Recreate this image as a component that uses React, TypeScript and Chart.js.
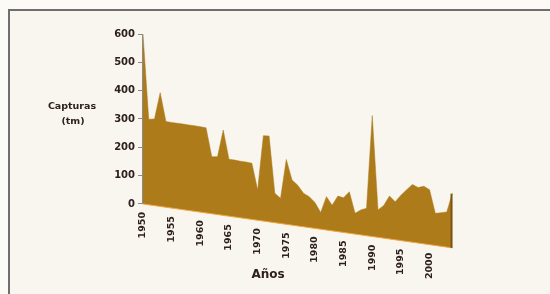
import React, { useEffect, useRef } from "react";
import { Chart, registerables } from "chart.js";

Chart.register(...registerables);

const years: number[] = [
  1950, 1951, 1952, 1953, 1954, 1955, 1956, 1957, 1958, 1959,
  1960, 1961, 1962, 1963, 1964, 1965, 1966, 1967, 1968, 1969,
  1970, 1971, 1972, 1973, 1974, 1975, 1976, 1977, 1978, 1979,
  1980, 1981, 1982, 1983, 1984, 1985, 1986, 1987, 1988, 1989,
  1990, 1991, 1992, 1993, 1994, 1995, 1996, 1997, 1998, 1999,
  2000, 2001, 2002, 2003, 2004,
];

// Capturas (tm) as read against the left value axis
const capturas: number[] = [
  600, 299, 300, 393, 291, 288, 285, 282, 279, 276,
  273, 269, 167, 167, 261, 158, 155, 151, 148, 144,
  49, 241, 240, 38, 20, 157, 85, 66, 38, 26,
  5, -30, 26, -4, 28, 22, 43, -33, -21, -15,
  312, -21, -5, 28, 8, 31, 50, 69, 58, 63,
  50, -33, -31, -28, 40,
];

// perspective floor of the 3D area, start and end (value-axis units)
const floorYears: number[] = [1950, 2004];
const floorDrop: number[] = [0, -155];

const yTickValues: number[] = [0, 100, 200, 300, 400, 500, 600];
const xLabelYears: number[] = [1950, 1955, 1960, 1965, 1970, 1975, 1980, 1985, 1990, 1995, 2000];

const yTitle: string[] = ["Capturas", "(tm)"];
const xTitle = "Años";

const AREA = "#ad7b1a";
const SIDE = "#7a5412";
const FLOOR_EDGE = "#f0a540";
const TEXT = "#2f2020";
const AXIS = "#8a8a8a";
const FONT = '"DejaVu Sans"';

export default function App() {
  const ref = useRef<HTMLCanvasElement | null>(null);

  useEffect(() => {
    if (!ref.current) return;

    const overlay = {
      id: "overlay",
      beforeDatasetsDraw(chart: any) {
        const { ctx, scales } = chart;
        const x = scales.x, y = scales.y;
        const x0 = x.getPixelForValue(years[0]);
        ctx.save();
        ctx.strokeStyle = AXIS;
        ctx.lineWidth = 1;
        ctx.beginPath();
        ctx.moveTo(Math.round(x0) - 0.5, y.getPixelForValue(yTickValues[yTickValues.length - 1]));
        ctx.lineTo(Math.round(x0) - 0.5, y.getPixelForValue(0));
        ctx.stroke();
        ctx.restore();
      },
      afterDatasetsDraw(chart: any) {
        const { ctx, scales } = chart;
        const x = scales.x, y = scales.y;
        const fx0 = x.getPixelForValue(floorYears[0]);
        const fx1 = x.getPixelForValue(floorYears[1]);
        const fy0 = y.getPixelForValue(floorDrop[0]);
        const fy1 = y.getPixelForValue(floorDrop[1]);

        // side face at the last year
        const lastX = x.getPixelForValue(years[years.length - 1]);
        ctx.save();
        ctx.strokeStyle = SIDE;
        ctx.lineWidth = 2;
        ctx.beginPath();
        ctx.moveTo(lastX - 1, y.getPixelForValue(capturas[capturas.length - 1]) + 1);
        ctx.lineTo(lastX - 1, fy1);
        ctx.stroke();
        ctx.restore();

        ctx.save();
        ctx.fillStyle = TEXT;
        ctx.font = `bold 9.5px ${FONT}`;
        xLabelYears.forEach((yr) => {
          const px = x.getPixelForValue(yr);
          const fy = fy0 + ((fy1 - fy0) * (px - fx0)) / (fx1 - fx0);
          ctx.save();
          ctx.translate(px, fy + 8);
          ctx.rotate(-Math.PI / 2);
          ctx.textAlign = "right";
          ctx.textBaseline = "middle";
          ctx.fillText(String(yr), 0, 0);
          ctx.restore();
        });

        ctx.textAlign = "center";
        ctx.textBaseline = "middle";
        ctx.font = `bold 9.5px ${FONT}`;
        ctx.fillText(yTitle[0], 72, 107);
        ctx.fillText(yTitle[1], 73, 122);

        ctx.font = `bold 12px ${FONT}`;
        ctx.fillText(xTitle, 268, 275);
        ctx.restore();
      },
    };

    const chart = new Chart(ref.current, {
      type: "line",
      data: {
        datasets: [
          {
            label: "suelo",
            data: floorYears.map((yr, i) => ({ x: yr, y: floorDrop[i] })),
            borderColor: FLOOR_EDGE,
            borderWidth: 1,
            pointRadius: 0,
            fill: false,
            order: 0,
          } as any,
          {
            label: "Capturas",
            data: years.map((yr, i) => ({ x: yr, y: capturas[i] })),
            borderColor: AREA,
            backgroundColor: AREA,
            borderWidth: 0.5,
            pointRadius: 0,
            tension: 0,
            fill: { target: 0 },
            order: 1,
          } as any,
        ],
      },
      options: {
        animation: false,
        responsive: false,
        maintainAspectRatio: false,
        devicePixelRatio: 1,
        layout: { padding: { left: 0, top: 34, right: 97.5, bottom: 44.67 } },
        plugins: {
          legend: { display: false },
          tooltip: { enabled: false },
        },
        scales: {
          x: {
            type: "linear",
            min: years[0],
            max: years[years.length - 1],
            display: false,
          },
          y: {
            type: "linear",
            min: -160,
            max: 600,
            afterBuildTicks: (s: any) => {
              s.ticks = yTickValues.map((v) => ({ value: v }));
            },
            afterFit: (s: any) => {
              s.width = 143;
            },
            border: { display: false },
            grid: {
              display: true,
              drawOnChartArea: false,
              drawTicks: true,
              tickLength: 5,
              color: AXIS,
            },
            ticks: {
              color: TEXT,
              padding: 3,
              font: { family: "DejaVu Sans", size: 10, weight: "bold" },
            },
          },
        },
      },
      plugins: [overlay],
    });

    return () => chart.destroy();
  }, []);

  return (
    <div style={{ position: "fixed", left: 0, top: 0, width: 550, height: 294, background: "#fbfaf6", overflow: "hidden" }}>
      <div
        style={{
          position: "absolute",
          left: 8,
          top: 9,
          width: 560,
          height: 300,
          borderTop: "2px solid #6e6e6e",
          borderLeft: "2px solid #6e6e6e",
          background: "#f8f6ef",
        }}
      />
      <canvas ref={ref} width={550} height={294} style={{ position: "absolute", left: 0, top: 0, width: 550, height: 294 }} />
    </div>
  );
}
